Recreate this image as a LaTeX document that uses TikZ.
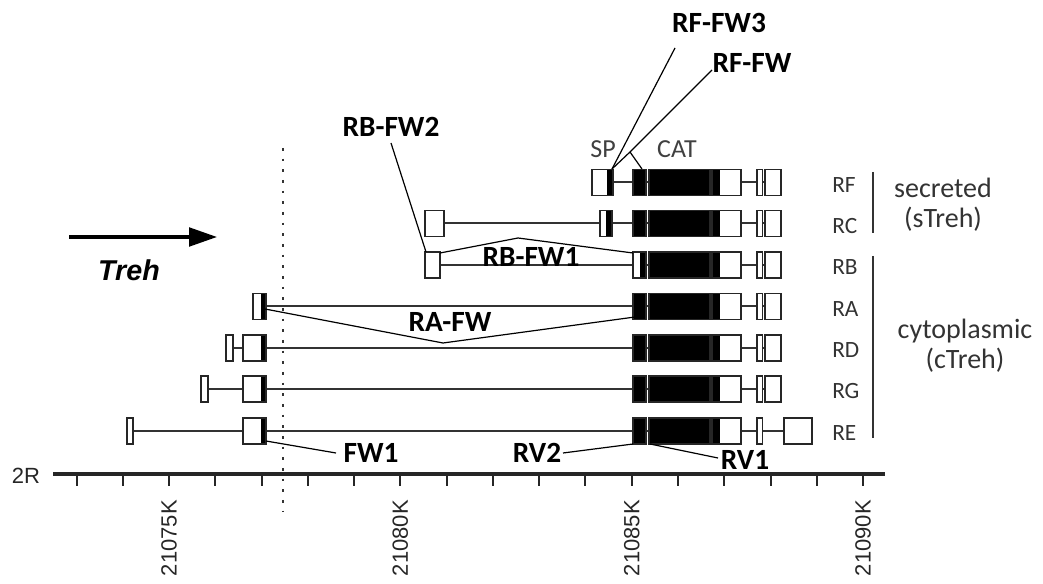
\documentclass[tikz,border=0pt]{standalone}
\usepackage{fontspec}
\setmainfont{Carlito}
\newfontfamily\arialf{Liberation Sans}
\usetikzlibrary{arrows.meta}
\newcommand\exbox[4]{%
  \fill[white] (#1,#4-13) rectangle (#2,#4+13);
  \fill[black] (#3,#4-13) rectangle (#2,#4+13);
  \draw[exline] (#1,#4-13) rectangle (#2,#4+13);}
\newcommand\revbox[4]{%
  \fill[white] (#1,#4-13) rectangle (#2,#4+13);
  \fill[black] (#1,#4-13) rectangle (#3,#4+13);
  \draw[exline] (#1,#4-13) rectangle (#2,#4+13);}
\begin{document}
\begin{tikzpicture}[x=0.75pt,y=-0.75pt,
  intron/.style={draw=black!80, line width=1.5pt},
  exline/.style={draw=black!85, line width=1.3pt},
  primer/.style={font=\fontsize{22}{24}\selectfont\bfseries, inner sep=0pt},
  conn/.style={draw=black, line width=0.9pt},
  glabel/.style={font=\fontsize{17.5}{19}\selectfont, text=black!80, inner sep=0pt, anchor=west},
  grouplabel/.style={font=\fontsize{21}{22.5}\selectfont, text=black!80, inner sep=0pt, align=center},
  bar/.style={draw=black!80, line width=1.6pt},
  axislabel/.style={font=\arialf\fontsize{16.5}{18}\selectfont, text=black!85, inner sep=0pt, rotate=90, anchor=east}
]
\useasboundingbox (0,0) rectangle (1043,584);

% introns
\draw[intron] (592,182.5) -- (781,182.5);
\draw[intron] (425,223.5) -- (781,223.5);
\draw[intron] (425,265) -- (781,265);
\draw[intron] (253,306.5) -- (781,306.5);
\draw[intron] (226,348) -- (781,348);
\draw[intron] (201,389) -- (781,389);
\draw[intron] (127,431) -- (812,431);

% common coding exons
\foreach \y in {182.5,223.5,306.5,348,389,431}{
  \exbox{633}{646}{633}{\y}
}
\exbox{633}{646}{640}{265}
\foreach \y in {182.5,223.5,265,306.5,348,389,431}{
  \exbox{649}{710}{649}{\y}
  \revbox{712}{741}{720}{\y}
  \exbox{757}{762.5}{762.5}{\y}
}
\foreach \y in {182.5,223.5,265,306.5,348,389}{
  \exbox{765}{781}{781}{\y}
}
\exbox{784}{812}{812}{431}

% 5' exons
\exbox{592}{613}{607}{182.5}
\exbox{425}{444}{444}{223.5}
\exbox{600}{612}{606}{223.5}
\exbox{425}{440}{440}{265}
\exbox{253}{266}{261}{306.5}
\exbox{226}{233}{233}{348}
\exbox{243}{266}{261}{348}
\exbox{201}{208}{208}{389}
\exbox{243}{266}{261}{389}
\exbox{127}{133}{133}{431}
\exbox{243}{266}{261}{431}

% dotted line
\draw[black!80, line width=1.8pt, dash pattern=on 2pt off 6pt] (283,148) -- (283,512);

% domain labels
\node[font=\fontsize{19.5}{21}\selectfont, text=black!75, inner sep=0pt] (sp) at (603,149) {SP};
\node[font=\fontsize{19.5}{21}\selectfont, text=black!75, inner sep=0pt] (cat) at (677,149) {CAT};

% isoform labels
\node[glabel] (lRF) at (832,185) {RF};
\node[glabel] (lRC) at (832,226) {RC};
\node[glabel] (lRB) at (832,267.5) {RB};
\node[glabel] (lRA) at (832,309) {RA};
\node[glabel] (lRD) at (832,350.5) {RD};
\node[glabel] (lRG) at (832,391.5) {RG};
\node[glabel] (lRE) at (832,433.5) {RE};

\draw[bar] (873,172) -- (873,233);
\draw[bar] (873,256) -- (873,438);
\node[grouplabel] (sec) at (943,205) {secreted\\(sTreh)};
\node[grouplabel] (cyt) at (965,346) {cytoplasmic\\(cTreh)};

% gene arrow
\coordinate (arrS) at (69,237);
\coordinate (arrE) at (217,237);
\draw[black, line width=2.4pt, -{Triangle[length=21pt,width=14pt]}] (arrS) -- (arrE);
\node[font=\arialf\bfseries\itshape\fontsize{21.5}{24}\selectfont, inner sep=0pt] (treh) at (129,270) {Treh};

% primers
\node[primer] (rffw3) at (719,23) {RF-FW3};
\node[primer] (rffw) at (752,63) {RF-FW};
\node[primer] (rbfw2) at (391,127) {RB-FW2};
\node[primer] (rbfw1) at (531,257) {RB-FW1};
\node[primer] (rafw) at (450,322) {RA-FW};
\node[primer] (fw1) at (371,453) {FW1};
\node[primer] (rv2) at (537,453) {RV2};
\node[primer] (rv1) at (745,460) {RV1};

\coordinate (rffw3s) at (675,48);
\coordinate (spex) at (612,169);
\coordinate (rffws) at (712,70);
\coordinate (rffwk) at (630,152);
\coordinate (catex) at (642,169);
\coordinate (rbfw2s) at (391,143);
\coordinate (rbex) at (426,252);
\coordinate (rbex2) at (440,253);
\coordinate (rbpk) at (518,238);
\coordinate (rbcat) at (633,253);
\coordinate (raex) at (265,309);
\coordinate (rapk) at (443,343);
\coordinate (racat) at (635,317);
\coordinate (reex) at (266,441);
\coordinate (fw1e) at (336,453);
\coordinate (rv2e) at (563,453);
\coordinate (recat) at (633,444);
\coordinate (recat2) at (650,444);
\coordinate (rv1e) at (718,458);

\draw[conn] (rffw3s) -- (spex);
\draw[conn] (rffws) -- (rffwk) -- (spex);
\draw[conn] (rffwk) -- (catex);
\draw[conn] (rbfw2s) -- (rbex);
\draw[conn] (rbex2) -- (rbpk) -- (rbcat);
\draw[conn] (raex) -- (rapk) -- (racat);
\draw[conn] (reex) -- (fw1e);
\draw[conn] (rv2e) -- (recat);
\draw[conn] (recat2) -- (rv1e);

% axis
\node[font=\arialf\fontsize{16.5}{18}\selectfont, text=black!85, inner sep=0pt] (chr) at (26,476) {2R};
\draw[black!85, line width=2.6pt] (53,474) -- (885,474);
\foreach \k in {0,...,17}{
  \draw[black!85, line width=1.5pt] (76.5+46.27*\k,474) -- (76.5+46.27*\k,486);
}
\node[axislabel] (k75) at (169,500) {21075K};
\node[axislabel] (k80) at (400.4,500) {21080K};
\node[axislabel] (k85) at (631.7,500) {21085K};
\node[axislabel] (k90) at (863,500) {21090K};
\end{tikzpicture}
\end{document}
